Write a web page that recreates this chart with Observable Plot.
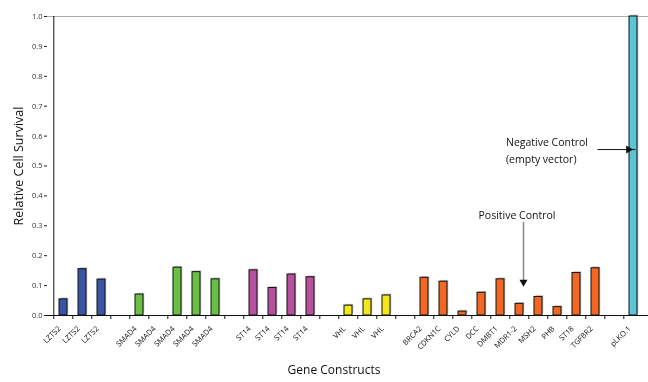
<!DOCTYPE html>
<html>
<head>
<meta charset="utf-8">
<script src="https://cdn.jsdelivr.net/npm/d3@7"></script>
<script src="https://cdn.jsdelivr.net/npm/@observablehq/plot@0.6"></script>
<style>
  body { margin: 0; background: #fff; }
  #chart svg { display: block; will-change: transform; }
</style>
</head>
<body>
<div id="chart"></div>
<script>
const labels = ["LZTS2","LZTS2","LZTS2","","SMAD4","SMAD4","SMAD4","SMAD4","SMAD4","","ST14","ST14","ST14","ST14","","VHL","VHL","VHL","","BRCA2","CDKN1C","CYLD","DCC","DMBT1","MDR1-2","MSH2","PHB","ST18","TGFBR2","","pLKO.1"];
const values = [0.054,0.155,0.12,null,0.07,null,0.16,0.145,0.121,null,0.151,0.092,0.137,0.128,null,0.033,0.054,0.067,null,0.126,0.113,0.013,0.076,0.121,0.039,0.062,0.028,0.142,0.158,null,1.0];
const groups = ["LZTS2","LZTS2","LZTS2","","SMAD4","SMAD4","SMAD4","SMAD4","SMAD4","","ST14","ST14","ST14","ST14","","VHL","VHL","VHL","","Other","Other","Other","Other","Other","Other","Other","Other","Other","Other","","Control"];
const groupNames = ["LZTS2","SMAD4","ST14","VHL","Other","Control"];
const groupColors = ["#3a55a4","#6abf45","#b5519f","#f2e61c","#f26722","#5cc5d5"];
const yTicks = [0,0.1,0.2,0.3,0.4,0.5,0.6,0.7,0.8,0.9,1.0];

const keys = labels.map((_, i) => i);
const data = keys.map(i => ({i, label: labels[i], value: values[i], group: groups[i]})).filter(d => d.value != null);
const labelData = keys.map(i => ({i, label: labels[i]})).filter(d => d.label !== "");

const W = 648, H = 382, mL = 47, mR = 0, mT = 16, mB = 67;
const step = (W - mL - mR) / keys.length;

const chart = Plot.plot({
  width: W,
  height: H,
  marginLeft: mL,
  marginRight: mR,
  marginTop: mT,
  marginBottom: mB,
  style: {fontFamily: "'Open Sans', sans-serif", fontSize: "7.5px", color: "#222", background: "#fff"},
  x: {domain: keys, paddingInner: 0.59, paddingOuter: 0.295, axis: null},
  y: {domain: [0, 1], axis: null},
  color: {domain: groupNames, range: groupColors},
  marks: [
    Plot.ruleY([1], {stroke: "#aaa", strokeWidth: 1}),
    Plot.axisY({ticks: yTicks, tickFormat: d3.format(".1f"), tickSize: 3, tickPadding: 2, fill: "#333", fontSize: 7.5, label: null}),
    Plot.barY(data, {x: "i", y: "value", fill: "#c4c4c4", dx: 1.3, dy: -1.3}),
    Plot.barY(data, {x: "i", y: "value", fill: "group", stroke: "#111", strokeWidth: 1}),
    Plot.ruleY([0], {stroke: "#111", strokeWidth: 1}),
    Plot.ruleX([keys[0]], {y1: 0, y2: 1, stroke: "#111", strokeWidth: 1, dx: -step / 2}),
    Plot.axisX({ticks: keys, tickFormat: () => "", tickSize: 4, dx: -step / 2, label: null, stroke: "#111"}),
    Plot.text(labelData, {x: "i", y: () => 0, text: "label", rotate: -45, textAnchor: "end", lineAnchor: "middle", dx: -4, dy: 12, fontSize: 7.5, fill: "#111"}),
    Plot.text(["Relative Cell Survival"], {frameAnchor: "left", textAnchor: "middle", rotate: -90, dx: -29, fontSize: 12.5, fill: "#111"}),
    Plot.text(["Gene Constructs"], {frameAnchor: "bottom", textAnchor: "middle", dy: 58, dx: -14, fontSize: 12, fill: "#111"}),
    // Negative control annotation
    Plot.text(["Negative Control\n(empty vector)"], {x: [23], y: [0.557], dx: 5.5, textAnchor: "start", lineAnchor: "middle", lineHeight: 1.6, fontSize: 10.5, fill: "#111"}),
    Plot.link([0], {x1: [28], x2: [30], y1: [0.555], y2: [0.555], stroke: "#111", strokeWidth: 1, dx: 2}),
    Plot.dot([0], {x: [30], y: [0.555], symbol: "triangle", r: 3, fill: "#111", rotate: 90, dx: -5}),
    // Positive control annotation
    Plot.text(["Positive Control"], {x: [24], y: [0.333], dx: -2.5, fontSize: 10.5, fill: "#111"}),
    Plot.link([0], {x1: [24], x2: [24], y1: [0.313], y2: [0.115], stroke: "#888", strokeWidth: 1.5, dx: 4}),
    Plot.dot([0], {x: [24], y: [0.112], symbol: "triangle", r: 3, fill: "#111", rotate: 180, dx: 4})
  ]
});
document.getElementById("chart").appendChild(chart);
</script>
</body>
</html>
